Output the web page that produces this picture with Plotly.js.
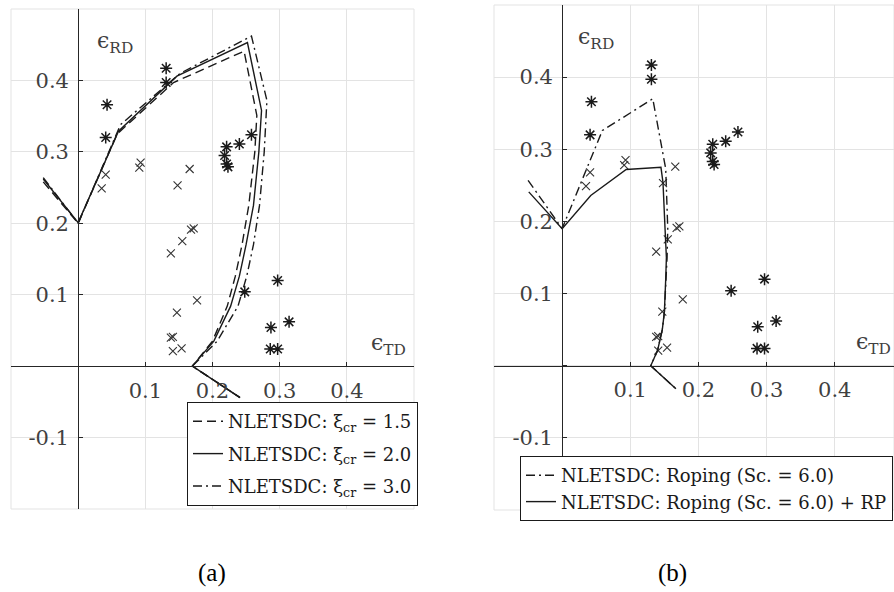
<!DOCTYPE html>
<html>
<head>
<meta charset="utf-8">
<script src="https://cdn.plot.ly/plotly-3.0.1.min.js"></script>
<style>html,body{margin:0;padding:0;background:#fff;}#chart{width:894px;height:592px;}</style>
</head>
<body>
<div id="chart"></div>
<script>
// Experimental data (same in both panels)
const starX = [0.043, 0.041, 0.131, 0.131, 0.221, 0.218, 0.221, 0.223, 0.240, 0.258, 0.248, 0.297, 0.287, 0.314, 0.286, 0.297];
const starY = [0.366, 0.320, 0.417, 0.397, 0.307, 0.295, 0.283, 0.279, 0.311, 0.324, 0.104, 0.120, 0.054, 0.062, 0.024, 0.024];
const crossX = [0.035, 0.041, 0.091, 0.093, 0.148, 0.166, 0.138, 0.155, 0.168, 0.172, 0.177, 0.147, 0.138, 0.141, 0.141, 0.154];
const crossY = [0.249, 0.268, 0.278, 0.285, 0.253, 0.276, 0.158, 0.175, 0.191, 0.193, 0.092, 0.075, 0.040, 0.041, 0.021, 0.025];

// Panel (a) model curves
const xi15X = [-0.052, 0, 0.058, 0.142, 0.247, 0.266, 0.263, 0.254, 0.244, 0.234, 0.222, 0.200, 0.170, 0.241];
const xi15Y = [0.258, 0.200, 0.325, 0.397, 0.441, 0.351, 0.300, 0.225, 0.170, 0.126, 0.084, 0.035, 0.000, -0.044];
const xi20X = [-0.052, 0, 0.060, 0.147, 0.252, 0.273, 0.269, 0.261, 0.250, 0.240, 0.227, 0.202, 0.170, 0.241];
const xi20Y = [0.262, 0.201, 0.329, 0.406, 0.453, 0.358, 0.300, 0.225, 0.170, 0.126, 0.084, 0.035, 0.000, -0.044];
const xi30X = [-0.052, 0, 0.063, 0.152, 0.258, 0.281, 0.277, 0.270, 0.261, 0.251, 0.238, 0.207, 0.170, 0.241];
const xi30Y = [0.264, 0.200, 0.338, 0.410, 0.462, 0.372, 0.300, 0.225, 0.170, 0.126, 0.084, 0.035, 0.000, -0.044];

// Panel (b) model curves
const ropX = [-0.050, 0, 0.059, 0.133, 0.152, 0.155, 0.154, 0.152, 0.150, 0.147, 0.140, 0.130, 0.167];
const ropY = [0.257, 0.190, 0.326, 0.370, 0.273, 0.190, 0.150, 0.120, 0.074, 0.050, 0.021, 0.000, -0.032];
const ropRpX = [-0.049, 0, 0.042, 0.094, 0.145, 0.148, 0.151, 0.153, 0.152, 0.150, 0.147, 0.140, 0.130, 0.167];
const ropRpY = [0.241, 0.190, 0.236, 0.272, 0.275, 0.254, 0.190, 0.150, 0.120, 0.074, 0.050, 0.021, 0.000, -0.032];

const legendA = ["NLETSDC: ξ<sub>cr</sub> = 1.5", "NLETSDC: ξ<sub>cr</sub> = 2.0", "NLETSDC: ξ<sub>cr</sub> = 3.0"];
const legendB = ["NLETSDC: Roping (Sc. = 6.0)", "NLETSDC: Roping (Sc. = 6.0) + RP"];

const tickVals = [-0.2, -0.1, 0, 0.1, 0.2, 0.3, 0.4, 0.5];
const xTickText = ["", "", "", "0.1", "0.2", "0.3", "0.4", ""];
const yTickText = ["", "-0.1", "", "0.1", "0.2", "0.3", "0.4", ""];

const W = 894, H = 592;
const SERIF = "DejaVu Serif, serif";
const AX = "#262626", TXT = "#404040", GRID = "#e3e3e3", INK = "#1a1a1a";

const xRangeA = [-0.1, 0.5], yRangeA = [-0.2, 0.5];
const xRangeB = [-0.1, 0.487], yRangeB = [-0.2, 0.5];
const xDomA = [11 / W, 414 / W], yDomA = [1 - 509 / H, 1 - 9 / H];
const xDomB = [494 / W, 1], yDomB = [1 - 510 / H, 1 - 5 / H];

function zeroPos(dom, rng) { return dom[0] + (dom[1] - dom[0]) * (0 - rng[0]) / (rng[1] - rng[0]); }

function xAxis(dom, rng, yDom, yRng) {
  return {
    domain: dom, range: rng, anchor: "free", position: zeroPos(yDom, yRng),
    tickvals: tickVals, ticktext: xTickText, ticks: "inside", ticklen: 4, tickcolor: AX,
    showline: true, linecolor: AX, linewidth: 1.3, zeroline: false,
    showgrid: true, gridcolor: GRID, gridwidth: 1,
    tickfont: {family: SERIF, size: 21, color: TXT}, ticklabelstandoff: 5
  };
}
function yAxis(dom, rng, xDom, xRng) {
  return {
    domain: dom, range: rng, anchor: "free", position: zeroPos(xDom, xRng),
    tickvals: tickVals, ticktext: yTickText, ticks: "inside", ticklen: 4, tickcolor: AX,
    showline: true, linecolor: AX, linewidth: 1.3, zeroline: false,
    showgrid: true, gridcolor: GRID, gridwidth: 1,
    tickfont: {family: SERIF, size: 21, color: TXT}, ticklabelstandoff: 5
  };
}

function starTrace(xa, ya) {
  return {x: starX, y: starY, xaxis: xa, yaxis: ya, type: "scatter", mode: "markers", showlegend: false,
    marker: {symbol: "asterisk-open", size: 10, line: {color: INK, width: 1.5}, color: INK}};
}
function crossTrace(xa, ya) {
  return {x: crossX, y: crossY, xaxis: xa, yaxis: ya, type: "scatter", mode: "markers", showlegend: false,
    marker: {symbol: "x-thin-open", size: 8, line: {color: "#333", width: 1.1}, color: "#333"}};
}
function lineTrace(x, y, xa, ya, name, dash, leg, grp) {
  return {x: x, y: y, xaxis: xa, yaxis: ya, type: "scatter", mode: "lines", name: name, legend: leg, legendgroup: grp,
    line: {color: INK, width: 1.4, dash: dash}};
}

const DASH = "9px,5px", DASHDOT = "9px,4px,2px,4px";

const data = [
  starTrace("x", "y"), crossTrace("x", "y"),
  lineTrace(xi15X, xi15Y, "x", "y", legendA[0], DASH, "legend", "a1"),
  lineTrace(xi20X, xi20Y, "x", "y", legendA[1], "solid", "legend", "a2"),
  lineTrace(xi30X, xi30Y, "x", "y", legendA[2], DASHDOT, "legend", "a3"),
  starTrace("x2", "y2"), crossTrace("x2", "y2"),
  lineTrace(ropX, ropY, "x2", "y2", legendB[0], DASHDOT, "legend2", "b1"),
  lineTrace(ropRpX, ropRpY, "x2", "y2", legendB[1], "solid", "legend2", "b2")
];

const legFont = {family: SERIF, size: 18, color: INK};
const layout = {
  width: W, height: H, margin: {l: 0, r: 0, t: 0, b: 0},
  paper_bgcolor: "#fff", plot_bgcolor: "#fff",
  xaxis: xAxis(xDomA, xRangeA, yDomA, yRangeA),
  yaxis: yAxis(yDomA, yRangeA, xDomA, xRangeA),
  xaxis2: xAxis(xDomB, xRangeB, yDomB, yRangeB),
  yaxis2: yAxis(yDomB, yRangeB, xDomB, xRangeB),
  legend: {x: 187 / W, y: 1 - 402 / H, xanchor: "left", yanchor: "top", bgcolor: "#fff",
    bordercolor: INK, borderwidth: 1, font: legFont, tracegroupgap: 6},
  legend2: {x: 520 / W, y: 1 - 456 / H, xanchor: "left", yanchor: "top", bgcolor: "#fff",
    bordercolor: INK, borderwidth: 1, font: legFont, tracegroupgap: 0},
  shapes: [
    {type: "rect", xref: "x domain", yref: "y domain", x0: 0, x1: 1, y0: 0, y1: 1, line: {color: GRID, width: 1}, layer: "below"},
    {type: "rect", xref: "x2 domain", yref: "y2 domain", x0: 0, x1: 1, y0: 0, y1: 1, line: {color: GRID, width: 1}, layer: "below"}
  ],
  annotations: [
    {xref: "x", yref: "y", x: 0.025, y: 0.453, text: "ϵ<sub>RD</sub>", showarrow: false, xanchor: "left", yanchor: "middle", font: {family: SERIF, size: 22, color: TXT}},
    {xref: "x", yref: "y", x: 0.433, y: 0.031, text: "ϵ<sub>TD</sub>", showarrow: false, xanchor: "left", yanchor: "middle", font: {family: SERIF, size: 22, color: TXT}},
    {xref: "x2", yref: "y2", x: 0.021, y: 0.453, text: "ϵ<sub>RD</sub>", showarrow: false, xanchor: "left", yanchor: "middle", font: {family: SERIF, size: 22, color: TXT}},
    {xref: "x2", yref: "y2", x: 0.429, y: 0.031, text: "ϵ<sub>TD</sub>", showarrow: false, xanchor: "left", yanchor: "middle", font: {family: SERIF, size: 22, color: TXT}},
    {xref: "paper", yref: "paper", x: 212 / W, y: 1 - 573 / H, text: "(a)", showarrow: false, xanchor: "center", yanchor: "middle", font: {family: "Liberation Serif, serif", size: 25, color: "#000"}},
    {xref: "paper", yref: "paper", x: 672 / W, y: 1 - 573 / H, text: "(b)", showarrow: false, xanchor: "center", yanchor: "middle", font: {family: "Liberation Serif, serif", size: 25, color: "#000"}}
  ]
};

Plotly.newPlot("chart", data, layout, {staticPlot: true, displayModeBar: false});
</script>
</body>
</html>
